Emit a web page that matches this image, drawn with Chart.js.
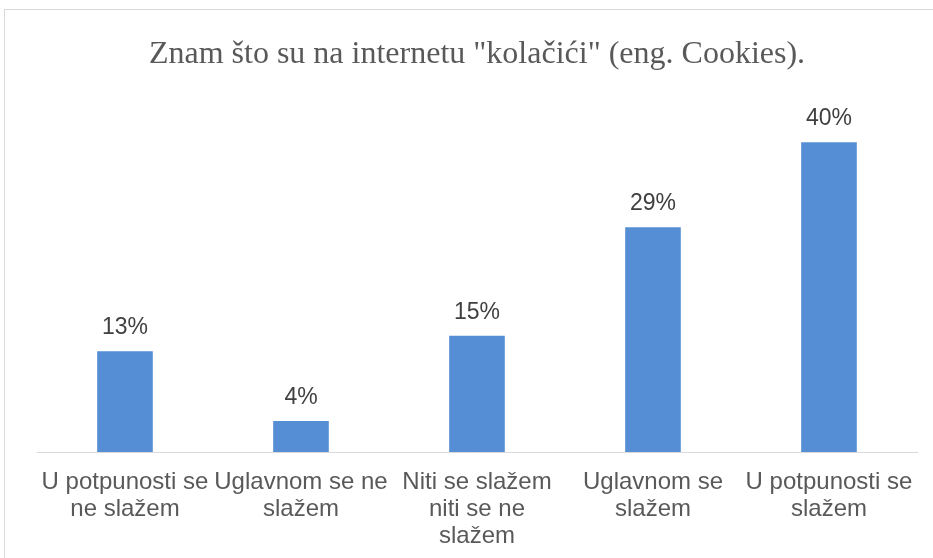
<!DOCTYPE html>
<html>
<head>
<meta charset="utf-8">
<script src="https://cdn.jsdelivr.net/npm/chart.js@4"></script>
<style>
  html, body { margin: 0; padding: 0; background: #fff; overflow: hidden; width: 933px; height: 558px; }
  #wrap { position: absolute; left: 4px; top: 9px; width: 948px; height: 570px; border: 1px solid #d9d9d9; }
</style>
</head>
<body>
<div id="wrap"><canvas id="chart" width="948" height="570"></canvas></div>
<script>
  // chart data
  const categories = [
    ["U potpunosti se", "ne slažem"],
    ["Uglavnom se ne", "slažem"],
    ["Niti se slažem", "niti se ne", "slažem"],
    ["Uglavnom se", "slažem"],
    ["U potpunosti se", "slažem"]
  ]
  const values = [13, 4, 15, 29, 40]
  const valueLabels = ["13%", "4%", "15%", "29%", "40%"]

  const textColor = "#595959"

  // draws the percentage above each bar
  const barLabels = {
    id: "barLabels",
    afterDatasetsDraw(chart) {
      const ctx = chart.ctx
      const meta = chart.getDatasetMeta(0)
      ctx.save()
      ctx.font = "23px 'Liberation Sans', Arial, sans-serif"
      ctx.fillStyle = "#404040"
      ctx.textAlign = "center"
      ctx.textBaseline = "alphabetic"
      meta.data.forEach((bar, i) => {
        ctx.fillText(valueLabels[i], bar.x, bar.y - 17)
      })
      ctx.restore()
    }
  }

  new Chart(document.getElementById("chart"), {
    type: "bar",
    data: {
      labels: categories,
      datasets: [{
        data: values,
        backgroundColor: "#558ed5",
        borderWidth: 0,
        barPercentage: 0.316,
        categoryPercentage: 1
      }]
    },
    options: {
      responsive: false,
      animation: false,
      layout: { padding: { left: 32, right: 36, top: 0, bottom: 21 } },
      plugins: {
        legend: { display: false },
        tooltip: { enabled: false },
        title: {
          display: true,
          text: 'Znam što su na internetu "kolačići" (eng. Cookies).',
          color: textColor,
          font: { family: "'Liberation Serif', 'Times New Roman', serif", size: 32, weight: "normal", lineHeight: 1.2 },
          padding: { top: 25, bottom: 30 }
        }
      },
      scales: {
        x: {
          grid: { display: false },
          border: { display: true, color: "#d9d9d9", width: 1 },
          ticks: {
            color: textColor,
            autoSkip: false,
            maxRotation: 0,
            padding: 9,
            font: { family: "'Liberation Sans', Arial, sans-serif", size: 24, lineHeight: 1.125 }
          }
        },
        y: {
          display: false,
          min: 0,
          max: 45
        }
      }
    },
    plugins: [barLabels]
  })
</script>
</body>
</html>
